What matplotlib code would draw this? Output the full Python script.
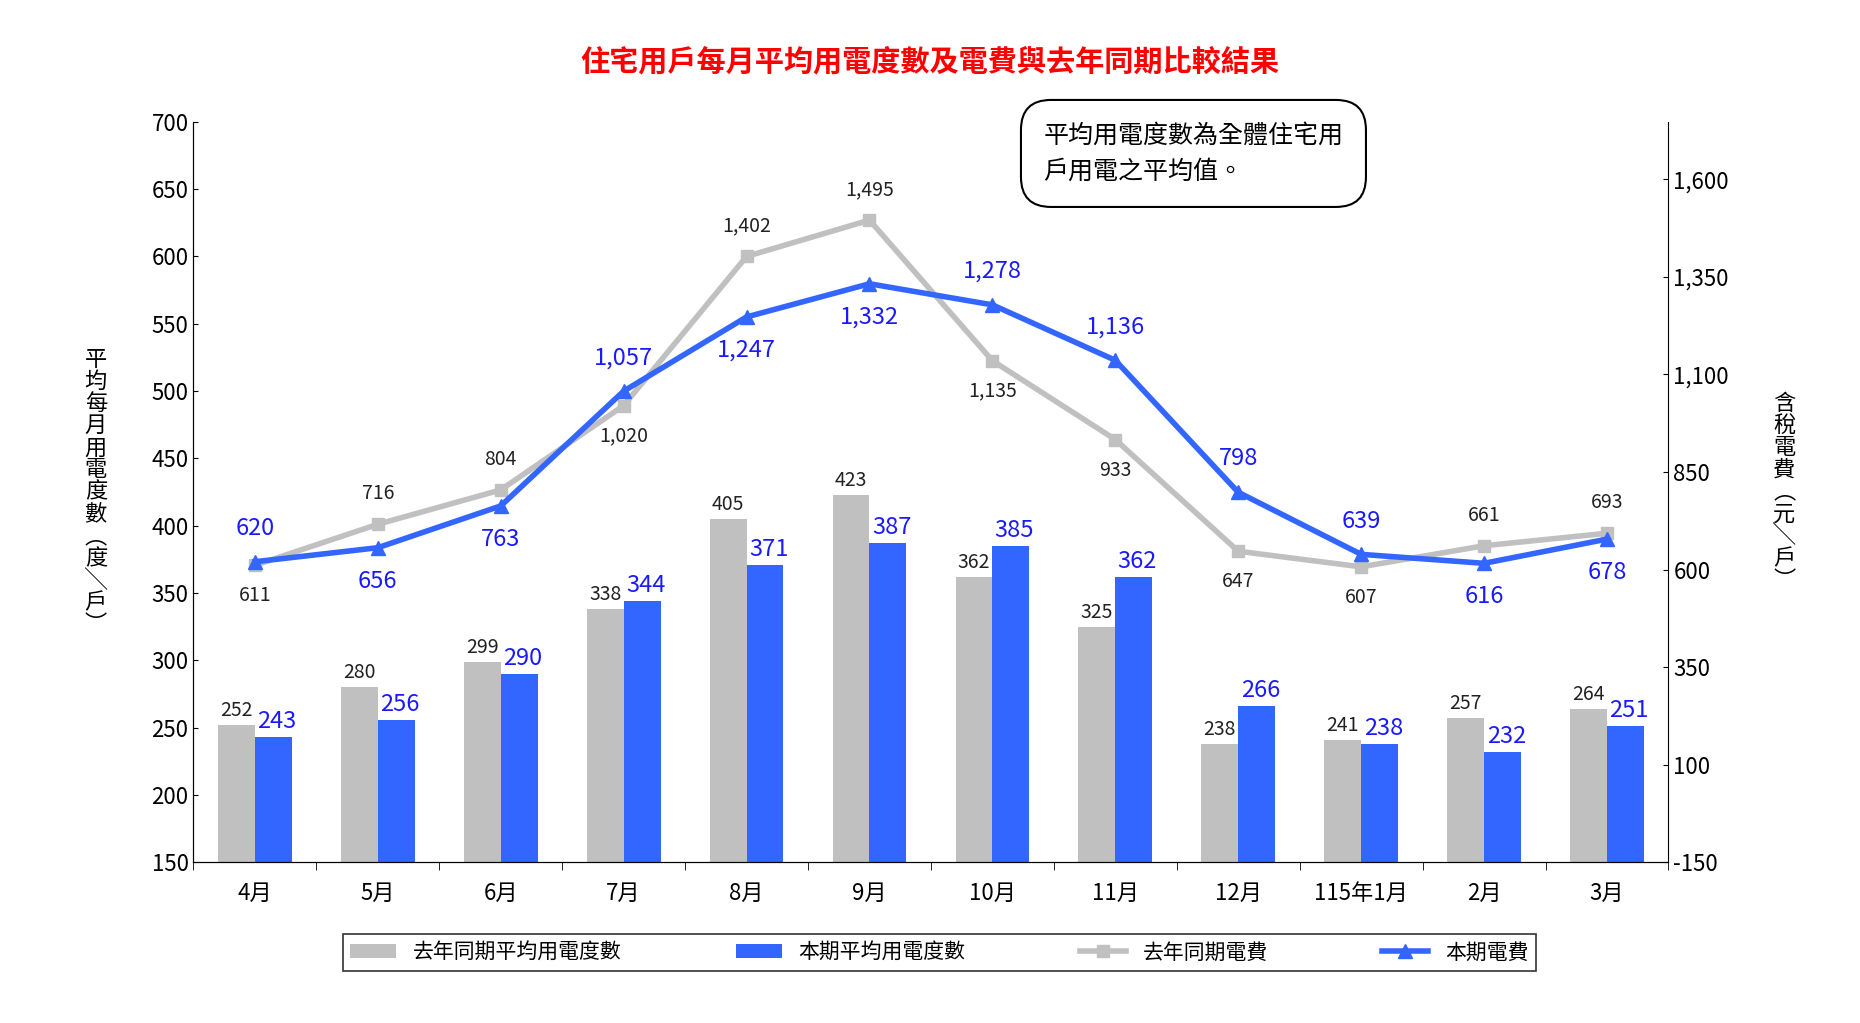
import matplotlib
matplotlib.use("Agg")
import matplotlib.pyplot as plt
import numpy as np

plt.rcParams['font.family'] = ['Noto Sans CJK TC', 'DejaVu Sans']

months = ["4月", "5月", "6月", "7月", "8月", "9月", "10月", "11月", "12月", "115年1月", "2月", "3月"]
kwh_last = [252, 280, 299, 338, 405, 423, 362, 325, 238, 241, 257, 264]
kwh_now = [243, 256, 290, 344, 371, 387, 385, 362, 266, 238, 232, 251]
fee_last = [611, 716, 804, 1020, 1402, 1495, 1135, 933, 647, 607, 661, 693]
fee_now = [620, 656, 763, 1057, 1247, 1332, 1278, 1136, 798, 639, 616, 678]
# label above (+1) or below (-1) the point
pos_last = [-1, 1, 1, -1, 1, 1, -1, -1, -1, -1, 1, 1]
pos_now = [1, -1, -1, 1, -1, -1, 1, 1, 1, 1, -1, -1]

gray = "#c0c0c0"
blue = "#3366ff"
lblue = "#1a1aff"

fig = plt.figure(figsize=(18.6, 10.23), dpi=100)
ax = fig.add_axes([0.104, 0.157, 0.793, 0.724])
x = np.arange(len(months))
w = 0.3
ax.bar(x - w / 2, [v - 150 for v in kwh_last], w, bottom=150, color=gray, label="去年同期平均用電度數")
ax.bar(x + w / 2, [v - 150 for v in kwh_now], w, bottom=150, color=blue, label="本期平均用電度數")
for i in range(len(x)):
    ax.text(x[i] - w / 2, kwh_last[i] + 3, str(kwh_last[i]), ha="center", va="bottom", fontsize=14, color="#222222")
    ax.text(x[i] + w / 2 + 0.03, kwh_now[i] + 3, str(kwh_now[i]), ha="center", va="bottom", fontsize=17, color=lblue)
ax.set_ylim(150, 700)
ax.set_xlim(-0.5, len(x) - 0.5)
ax.set_yticks(range(150, 701, 50))
ax.set_xticks(x)
ax.set_xticklabels(months, fontsize=16)
ax.set_xticks(np.arange(-0.5, len(x), 1), minor=True)
ax.tick_params(axis="x", which="major", length=0, pad=14)
ax.tick_params(axis="x", which="minor", length=6)
ax.tick_params(axis="y", labelsize=16, direction="in")
for s in ["top", "right"]:
    ax.spines[s].set_visible(False)
ax.set_ylabel("平\n均\n每\n月\n用\n電\n度\n數\n︵\n度\n╲\n戶\n︶", rotation=0, fontsize=16,
              va="center", labelpad=40, linespacing=0.95)

ax2 = ax.twinx()
ax2.plot(x, fee_last, color=gray, lw=4, marker="s", ms=8, label="去年同期電費")
ax2.plot(x, fee_now, color=blue, lw=4, marker="^", ms=10, label="本期電費")
for i in range(len(x)):
    ax2.annotate(f"{fee_last[i]:,}", (x[i], fee_last[i]), xytext=(0, 22 * pos_last[i]),
                 textcoords="offset points", ha="center", va="center", fontsize=14, color="#222222")
    ax2.annotate(f"{fee_now[i]:,}", (x[i], fee_now[i]), xytext=(0, 24 * pos_now[i]),
                 textcoords="offset points", ha="center", va="center", fontsize=17, color=lblue)
ax2.set_ylim(-150, 1747)
ax2.set_yticks(range(-150, 1601, 250))
ax2.set_yticklabels([f"{v:,}" for v in range(-150, 1601, 250)])
ax2.tick_params(axis="y", labelsize=16, direction="in")
ax2.spines["top"].set_visible(False)
ax2.set_ylabel("含\n稅\n電\n費\n︵\n元\n╲\n戶\n︶", rotation=0, fontsize=16, va="center",
               labelpad=40, linespacing=0.95)

fig.suptitle("住宅用戶每月平均用電度數及電費與去年同期比較結果", color="#ff0000", fontsize=21,
             fontweight="bold", y=0.955)
fig.text(0.561, 0.85, "平均用電度數為全體住宅用\n戶用電之平均值。", fontsize=18, va="center",
         linespacing=1.5, bbox=dict(boxstyle="round,pad=0.9,rounding_size=1.2", fc="white", ec="black", lw=1.5))

h1, l1 = ax.get_legend_handles_labels()
h2, l2 = ax2.get_legend_handles_labels()
leg = fig.legend(h1 + h2, l1 + l2, loc="center", bbox_to_anchor=(0.505, 0.069), ncol=4, fontsize=15,
                 frameon=True, fancybox=False, edgecolor="black", columnspacing=5.5, handlelength=2.2,
                 borderpad=0.35)
leg.get_frame().set_linewidth(1.2)
fig.savefig("out.png", dpi=100)
